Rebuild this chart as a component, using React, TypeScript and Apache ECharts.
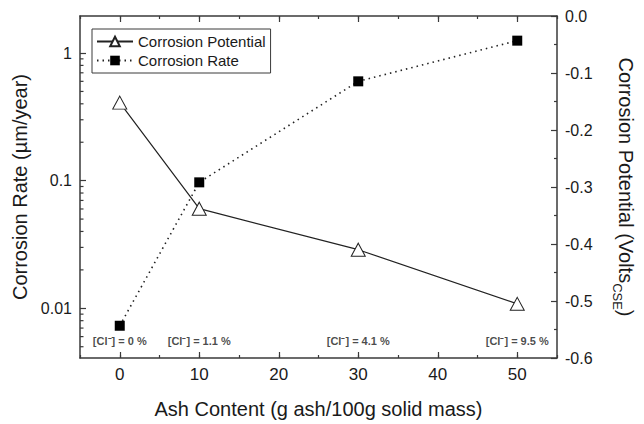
import React, { useEffect, useRef } from "react";
import * as echarts from "echarts";

const ashContent = [0, 10, 30, 50];
const corrosionPotential = [-0.152, -0.338, -0.41, -0.505];
const corrosionRate = [0.0073, 0.097, 0.6, 1.25];
const chloride = ["0", "1.1", "4.1", "9.5"];
const annotationLevel = -0.57;
const xMajorTicks = [0, 10, 20, 30, 40, 50];
const logMinorTicks = [
  0.005, 0.006, 0.007, 0.008, 0.009,
  0.02, 0.03, 0.04, 0.05, 0.06, 0.07, 0.08, 0.09,
  0.2, 0.3, 0.4, 0.5, 0.6, 0.7, 0.8, 0.9,
];
const X_MIN = -5;
const X_MAX = 55;
const RATE_MIN = 0.00408;
const RATE_MAX = 1.95;
const POT_MIN = -0.6;
const POT_MAX = 0;

const FONT = "'Liberation Sans', Arial, sans-serif";
const AX = "#3a3a3a";
const TXT = "#1a1a1a";

export default function App() {
  const ref = useRef<HTMLDivElement>(null);
  useEffect(() => {
    if (!ref.current) return;
    const chart = echarts.init(ref.current, null, { renderer: "svg" });
    const axisLine = { show: true, onZero: false, lineStyle: { color: AX, width: 1.5 } };
    const noLine = { show: false, onZero: false };
    const tickStyle = { color: AX, width: 1.2 };
    const xBase = { type: "value", min: X_MIN, max: X_MAX, interval: 5, splitLine: { show: false } };
    const option: any = {
      animation: false,
      backgroundColor: "#fff",
      textStyle: { fontFamily: FONT, color: TXT },
      grid: { left: 80, right: 83, top: 16, bottom: 54, containLabel: false },
      legend: {
        data: ["Corrosion Potential", "Corrosion Rate"],
        orient: "vertical",
        left: 92,
        top: 29,
        itemWidth: 36,
        itemHeight: 12,
        itemGap: 4,
        padding: [5, 5, 5, 4],
        borderColor: AX,
        borderWidth: 1,
        borderRadius: 0,
        backgroundColor: "#fff",
        textStyle: { fontSize: 15, color: TXT, fontFamily: FONT },
      },
      xAxis: [
        {
          ...xBase,
          position: "bottom",
          axisLine,
          axisTick: { inside: true, length: 6, customValues: xMajorTicks, lineStyle: tickStyle },
          axisLabel: {
            customValues: xMajorTicks,
            fontSize: 17,
            color: TXT,
            margin: 8,
            fontFamily: FONT,
            formatter: (v: number) => (Math.round(v) % 10 === 0 ? String(v) : ""),
          },
          name: "Ash Content (g ash/100g solid mass)",
          nameLocation: "middle",
          nameGap: 41,
          nameTextStyle: { fontSize: 20, color: TXT, fontFamily: FONT },
        },
        {
          ...xBase,
          position: "top",
          axisLine,
          axisTick: { inside: true, length: 6, customValues: xMajorTicks, lineStyle: tickStyle },
          axisLabel: { show: false },
        },
        {
          ...xBase,
          position: "bottom",
          axisLine: noLine,
          axisTick: { inside: true, length: 3, lineStyle: tickStyle },
          axisLabel: { show: false },
        },
        {
          ...xBase,
          position: "top",
          axisLine: noLine,
          axisTick: { inside: true, length: 3, lineStyle: tickStyle },
          axisLabel: { show: false },
        },
      ],
      yAxis: [
        {
          type: "log",
          logBase: 10,
          position: "left",
          min: RATE_MIN,
          max: RATE_MAX,
          axisLine,
          axisTick: { inside: true, length: 6, lineStyle: tickStyle },
          splitLine: { show: false },
          axisLabel: {
            fontSize: 16,
            color: TXT,
            margin: 8,
            fontFamily: FONT,
            showMinLabel: false,
            showMaxLabel: false,
            formatter: (v: number) => String(v),
          },
          name: "Corrosion Rate (\u00b5m/year)",
          nameLocation: "middle",
          nameGap: 41,
          nameRotate: 90,
          nameTextStyle: { fontSize: 20, color: TXT, fontFamily: FONT },
        },
        {
          type: "value",
          position: "right",
          min: POT_MIN,
          max: POT_MAX,
          interval: 0.1,
          axisLine,
          axisTick: { inside: true, length: 6, lineStyle: tickStyle },
          minorTick: { show: true, splitNumber: 2, length: 3, lineStyle: tickStyle },
          splitLine: { show: false },
          axisLabel: {
            fontSize: 16,
            color: TXT,
            margin: 8,
            fontFamily: FONT,
            formatter: (v: number) => (Math.abs(v) < 1e-9 ? "0.0" : v.toFixed(1)),
          },
          name: "{a|Corrosion Potential (Volts}{s|CSE}{a|)}",
          nameLocation: "middle",
          nameGap: 54,
          nameRotate: -90,
          nameTextStyle: {
            fontFamily: FONT,
            color: TXT,
            rich: {
              a: { fontSize: 20, lineHeight: 30, color: TXT, fontFamily: FONT },
              s: { fontSize: 13, verticalAlign: "bottom", color: TXT, fontFamily: FONT },
            },
          },
        },
      ],
      series: [
        {
          name: "Corrosion Potential",
          type: "line",
          xAxisIndex: 0,
          yAxisIndex: 1,
          data: ashContent.map((x, i) => [x, corrosionPotential[i]]),
          symbol: "triangle",
          symbolSize: [14, 13],
          itemStyle: { color: "#fff", borderColor: "#222", borderWidth: 1 },
          lineStyle: { color: "#222", width: 1.2, type: "solid" },
          z: 3,
        },
        {
          name: "Corrosion Rate",
          type: "line",
          xAxisIndex: 0,
          yAxisIndex: 0,
          data: ashContent.map((x, i) => [x, corrosionRate[i]]),
          symbol: "rect",
          symbolSize: 10,
          itemStyle: { color: "#000" },
          lineStyle: { color: "#222", width: 1.6, type: [1.5, 4] },
          z: 3,
        },
        {
          name: "annotations",
          type: "scatter",
          xAxisIndex: 0,
          yAxisIndex: 1,
          data: ashContent.map((x) => [x, annotationLevel]),
          symbolSize: 0,
          silent: true,
          label: {
            show: true,
            position: "inside",
            fontSize: 11,
            fontWeight: "bold",
            color: TXT,
            fontFamily: FONT,
            formatter: (p: any) => `[Cl\u207b] = ${chloride[p.dataIndex]} %`,
          },
        },
        {
          name: "logMinorTicks",
          type: "custom",
          xAxisIndex: 0,
          yAxisIndex: 0,
          silent: true,
          z: 5,
          data: logMinorTicks.map((v) => [X_MIN, v]),
          encode: { x: 0, y: 1 },
          renderItem: (params: any, api: any) => {
            const p = api.coord([api.value(0), api.value(1)]);
            return {
              type: "line",
              shape: { x1: p[0], y1: p[1], x2: p[0] + 3.5, y2: p[1] },
              style: { stroke: AX, lineWidth: 1.2 },
            };
          },
        },
      ],
    };
    chart.setOption(option);
    return () => chart.dispose();
  }, []);
  return (
    <div
      ref={ref}
      style={{ position: "fixed", left: 0, top: 0, width: 644, height: 424, background: "#fff" }}
    />
  );
}
